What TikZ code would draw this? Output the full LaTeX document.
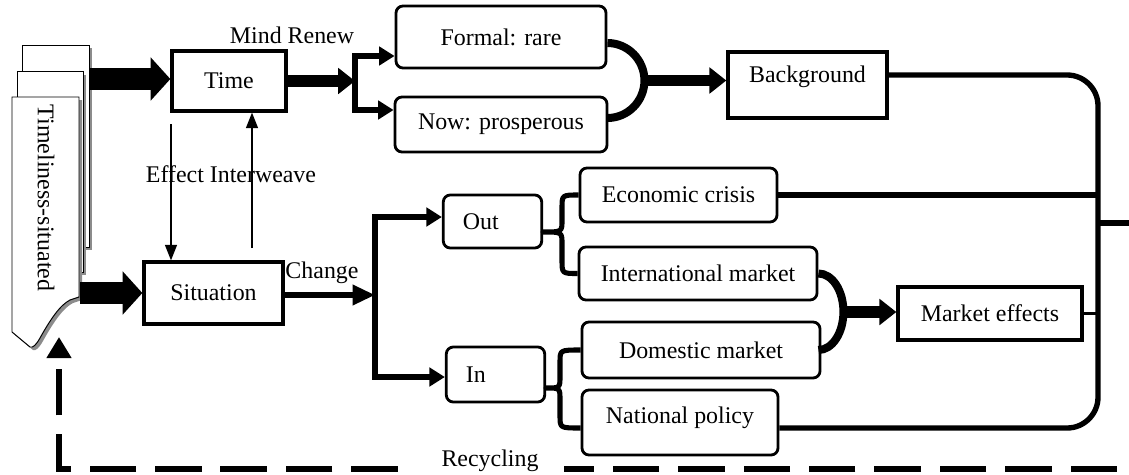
\documentclass[tikz,border=0pt]{standalone}
\usepackage{fontspec}
\setmainfont{Liberation Serif}
\usetikzlibrary{arrows.meta}

\tikzset{
  sqbox/.style={draw, line width=2.3pt, inner sep=2pt},
  rbox/.style={draw, rounded corners=5pt, line width=2pt, inner sep=2pt},
  lbox/.style={rbox, inner xsep=14pt, text width=42pt, align=left},
  fatarrow/.style={line width=15.6pt, -{Triangle[length=14pt, width=30pt]}},
  midarrow/.style={line width=8.5pt, -{Triangle[length=12pt, width=18pt]}},
  linkarrow/.style={line width=3.6pt, -{Triangle[length=11pt, width=13pt]}},
  thinarrow/.style={line width=0.9pt, -{Triangle[length=11pt, width=8.5pt]}},
  rail/.style={line width=3.8pt},
  bracepath/.style={line width=3.6pt, line join=round},
  mergearc/.style={line width=5.7pt},
  docpage/.style={draw, fill=white, line width=0.7pt},
  pageshadow/.style={fill=black!45},
  recycle/.style={line width=3.6pt, dash pattern=on 33pt off 13.5pt, -{Triangle[length=15pt, width=17pt]}},
}

\begin{document}
\begin{tikzpicture}[x=0.025cm, y=-0.025cm, font=\fontsize{17}{20}\selectfont]
    \useasboundingbox (0,0) rectangle (1129,474);
    \clip (0,0) rectangle (1129,474);

    % document stack
    \fill[pageshadow] (25.7,48) rectangle (92,250);
    \draw[docpage] (22.7,45) rectangle (89,247);
    \fill[pageshadow] (20.3,74.7) rectangle (86,275);
    \draw[docpage] (17.3,71.7) rectangle (83,272);
    \fill[pageshadow, shift={(3,3)}] (12,97) -- (79,97) -- (79,297) -- (70,300) .. controls (60,305) and (50,320) .. (40,338) .. controls (36,345) and (33,348) .. (30,347) -- (12,332) -- cycle;
    \draw[docpage] (12,97) -- (79,97) -- (79,297) -- (70,300) .. controls (60,305) and (50,320) .. (40,338) .. controls (36,345) and (33,348) .. (30,347) -- (12,332) -- cycle;
    \node[rotate=-90] (doc) at (46,198) {Timeliness-situated};
    \coordinate (docT) at (90,79);
    \coordinate (docS) at (80,293);
    \coordinate (docB) at (59,337);

    % boxes
    \node[sqbox, minimum width=2.85cm, minimum height=1.5cm] (time) at (229,81) {Time};
    \node[sqbox, minimum width=3.475cm, minimum height=1.55cm] (situation) at (213.5,293) {Situation};
    \node[rbox, minimum width=5.25cm, minimum height=1.55cm] (formal) at (501,37) {Formal: rare};
    \node[rbox, minimum width=5.3cm, minimum height=1.375cm] (now) at (501,124.5) {Now: prosperous};
    \node[sqbox, minimum width=3.975cm, minimum height=1.65cm, text depth=15pt] (background) at (807.5,85) {Background};
    \node[lbox, minimum height=1.325cm] (out) at (492.5,221.5) {Out};
    \node[lbox, minimum height=1.375cm] (in) at (495.5,374.5) {In};
    \node[rbox, minimum width=4.925cm, minimum height=1.35cm] (econ) at (678.5,195) {Economic crisis};
    \node[rbox, minimum width=5.95cm, minimum height=1.325cm] (intl) at (698,273.5) {International market};
    \node[rbox, minimum width=5.95cm, minimum height=1.4cm] (domestic) at (701,350) {Domestic market};
    \node[rbox, minimum width=4.9cm, minimum height=1.625cm, text depth=10pt] (national) at (680,422.5) {National policy};
    \node[sqbox, minimum width=4.6cm, minimum height=1.325cm] (market) at (990,313.5) {Market effects};

    % labels
    \node (mind) at (292,35) {Mind Renew};
    \node (effect) at (231,174) {Effect Interweave};
    \node (change) at (322,273) {Change};

    % left side
    \draw[fatarrow] (docT) -- (time.west |- docT);
    \draw[fatarrow] (docS) -- (situation.west);
    \coordinate (ed) at (171,124);
    \draw[thinarrow] (ed) -- (ed |- situation.north);
    \coordinate (eu) at (252,248);
    \draw[thinarrow] (eu) -- (eu |- time.south);

    % time branch
    \coordinate (tsplit) at (355,81);
    \draw[midarrow] (time.east) -- (tsplit);
    \draw[linkarrow] (tsplit) |- (formal.west |- 0,56);
    \draw[linkarrow] (tsplit) |- (now.west |- 0,110);
    \draw[mergearc] (formal.east |- 0,43) arc[start angle=-90, end angle=90, x radius=37, y radius=37.5];
    \coordinate (fm) at (644,80.5);
    \draw[midarrow] (fm) -- (fm -| background.west);

    % situation branch
    \coordinate (cbar) at (375,295);
    \draw[linkarrow, -{Triangle[length=16pt, width=14pt]}] (situation.east |- cbar) -- (cbar);
    \draw[linkarrow] (cbar) |- (out.west |- 0,217);
    \draw[linkarrow] (cbar) |- (in.west |- 0,377);
    \draw[bracepath] (econ.west) .. controls (562,195) .. (562,208) -- (562,220) .. controls (562,232) .. (out.east |- 0,232) .. controls (562,232) .. (562,244) -- (562,260) .. controls (562,273.5) .. (intl.west);
    \draw[bracepath] (domestic.west) .. controls (560,350) .. (560,362) -- (560,376) .. controls (560,388) .. (in.east |- 0,388) .. controls (560,388) .. (560,400) -- (560,416) .. controls (560,428) .. (national.west |- 0,428);
    \draw[mergearc] (intl.east) arc[start angle=-90, end angle=90, x radius=25, y radius=38.25];
    \coordinate (mm) at (843,312);
    \draw[midarrow] (mm) -- (mm -| market.west);

    % right rail
    \draw[rail, rounded corners=22pt] (background.east |- 0,75) -- (1098,75) -- (1098,428) -- (national.east |- 0,428);
    \draw[rail] (econ.east) -- (econ.east -| 1098,0);
    \draw[line width=2.4pt] (market.east) -- (market.east -| 1098,0);
    \coordinate (rout) at (1098,223);
    \coordinate (rloop) at (1132.5,223);
    \draw[rail] (rout) -- (rloop);
    \draw[recycle] (rloop) -- (1132.5,469) -- (59,469) -- (docB);
    \node[fill=white, inner xsep=18pt, inner ysep=1pt] (recycling) at (490,461) {Recycling};
\end{tikzpicture}
\end{document}
